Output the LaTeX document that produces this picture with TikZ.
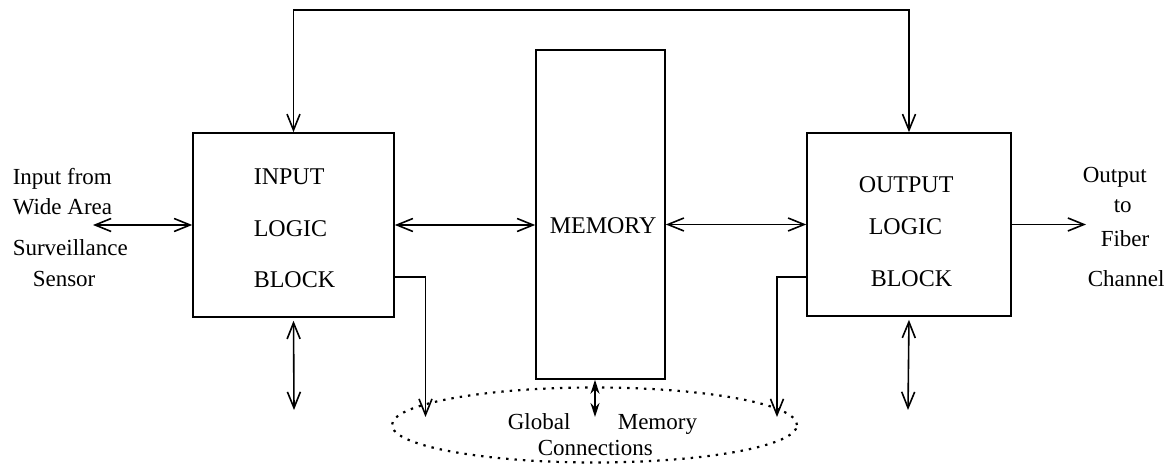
\documentclass[tikz,border=0pt]{standalone}
\usepackage{fontspec}
\setmainfont{Liberation Serif}
\usetikzlibrary{arrows.meta,shapes.geometric,calc}
\begin{document}
\begin{tikzpicture}[x=0.5pt,y=-0.5pt,
  line width=0.8pt,
  blockbox/.style={draw,rectangle,inner sep=0pt},
  blocklabel/.style={anchor=base west,inner sep=0pt,font=\fontsize{12}{14}\selectfont},
  sidelabel/.style={anchor=base west,inner sep=0pt,font=\fontsize{11.5}{13}\selectfont},
  barb/.tip={Straight Barb[length=8pt,width=6.5pt,line width=0.8pt]},
  arr/.style={-barb},
  dbl/.style={barb-barb},
  memarr/.style={{Stealth[length=7pt,width=4.5pt]}-{Stealth[length=7pt,width=4.5pt]}},
  globe/.style={draw,ellipse,line width=1.1pt,dash pattern=on 1.2pt off 3pt,inner sep=0pt}]
\useasboundingbox (0,0) rectangle (1168,469);

% blocks
\node[blockbox,minimum width=100.5pt,minimum height=92pt] (inblk) at (293.5,225) {};
\node[blockbox,minimum width=64.5pt,minimum height=164.5pt] (mem) at (600.5,214.5) {};
\node[blockbox,minimum width=102pt,minimum height=91.5pt] (outblk) at (909,224.5) {};
\node[globe,minimum width=202.5pt,minimum height=37.5pt] (glob) at (594.5,425) {};

% block labels
\node[blocklabel] (inl1) at (253,185) {INPUT};
\node[blocklabel] (inl2) at (253,237) {LOGIC};
\node[blocklabel] (inl3) at (253,288) {BLOCK};
\node[blocklabel] (meml) at (549,234) {MEMORY};
\node[blocklabel] (outl1) at (858,193) {OUTPUT};
\node[blocklabel] (outl2) at (868,235) {LOGIC};
\node[blocklabel] (outl3) at (870,287) {BLOCK};

% side labels
\node[sidelabel] (src1) at (12,185) {Input from};
\node[sidelabel] (src2) at (12,215) {Wide Area};
\node[sidelabel] (src3) at (12,256) {Surveillance};
\node[sidelabel] (src4) at (32,287) {Sensor};
\node[sidelabel] (dst1) at (1082,183) {Output};
\node[sidelabel] (dst2) at (1113,213) {to};
\node[sidelabel] (dst3) at (1100,247) {Fiber};
\node[sidelabel] (dst4) at (1087,287) {Channel};
\node[sidelabel] (gl1) at (507,430) {Global};
\node[sidelabel] (gl2) at (617,430) {Memory};
\node[sidelabel] (gl3) at (537,456) {Connections};

% free ends of connectors
\coordinate (srcend) at (93,225);
\coordinate (dstend) at (1086,224.5);
\coordinate (topline) at (600,10);
\coordinate (inbot) at (294,410);
\coordinate (outbot) at (908,410);
\coordinate (inglob) at (425.5,417);
\coordinate (outglob) at (777,417);
\coordinate (memglob) at (595,417);

% connectors
\draw[dbl] (srcend) -- (inblk.west);
\draw[dbl] (inblk.east) -- (inblk.east -| mem.west);
\draw[dbl] (outblk.west -| mem.east) -- (outblk.west);
\draw[arr] (outblk.east) -- (dstend);
\draw[dbl] (inblk.north) |- (topline) -| (outblk.north);
\draw[dbl,shorten <=1.5pt] (inblk.south) -- (inbot);
\draw[dbl,shorten <=1.5pt] (outblk.south) -- (outbot);
\draw[arr] ([yshift=20.5pt]inblk.south east) -| (inglob);
\draw[arr] ([yshift=20pt]outblk.south west) -| (outglob);
\draw[memarr] (mem.south -| memglob) -- (memglob);
\end{tikzpicture}
\end{document}
